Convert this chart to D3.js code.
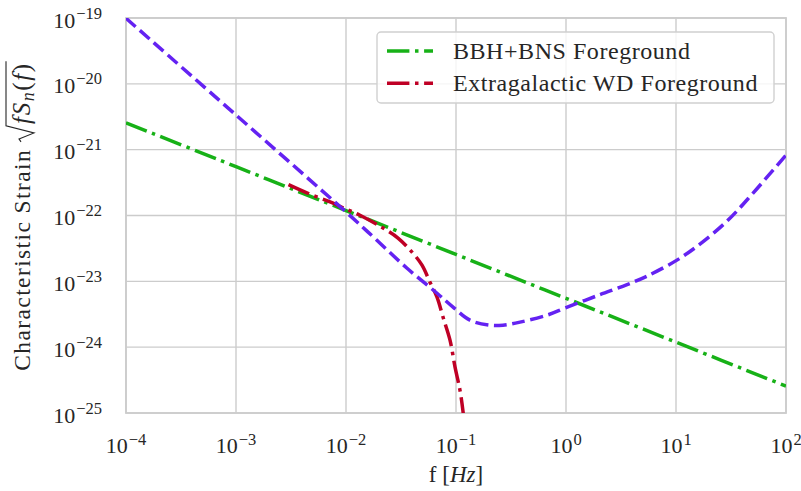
<!DOCTYPE html>
<html>
<head>
<meta charset="utf-8">
<script src="https://cdn.jsdelivr.net/npm/d3@7"></script>
<style>
  body { margin: 0; background: #fff; }
  svg { display: block; font-family: "Liberation Serif", "Times New Roman", serif; }
</style>
</head>
<body>
<svg id="chart" width="801" height="491"></svg>
<script>
// ---- tick positions and their exponent labels ----
const xTickValues = [1e-4, 1e-3, 1e-2, 1e-1, 1, 10, 100];
const xTickExponents = ["\u22124", "\u22123", "\u22122", "\u22121", "0", "1", "2"];
const yTickValues = [1e-25, 1e-24, 1e-23, 1e-22, 1e-21, 1e-20, 1e-19];
const yTickExponents = ["\u221225", "\u221224", "\u221223", "\u221222", "\u221221", "\u221220", "\u221219"];

// ---- LISA sensitivity curve (dashed) ----
const lisaFreq = [1e-4, 1e-3, 1e-2, 0.0191, 0.0359, 0.0672, 0.094, 0.134, 0.204, 0.267,
                  0.382, 0.671, 1, 2.04, 3.59, 5.45, 10.2, 16.5, 29.1, 50.2, 100];
const lisaStrain = [9.9e-20, 3.36e-21, 1.13e-22, 4.2e-23, 1.58e-23, 6.6e-24, 4.06e-24, 2.57e-24, 2.16e-24, 2.16e-24,
                    2.4e-24, 3.06e-24, 3.98e-24, 6.28e-24, 8.91e-24, 1.2e-23, 2.1e-23, 3.68e-23, 8.22e-23, 2.19e-22, 8.28e-22];

// ---- BBH+BNS foreground ----
const bbhFreq = [1e-4, 1e-3, 1e-2, 1e-1, 1, 10, 100];
const bbhStrain = [2.56e-21, 5.52e-22, 1.19e-22, 2.56e-23, 5.52e-24, 1.19e-24, 2.56e-25];

// ---- extragalactic white-dwarf foreground ----
const wdFreq = [3.0e-3, 4.71e-3, 7.16e-3, 1e-2, 0.0134, 0.0217, 0.0297, 0.0398, 0.0491, 0.058,
                0.0672, 0.0762, 0.0882, 0.098, 0.1087, 0.116, 0.121];
const wdStrain = [2.95e-22, 2.11e-22, 1.61e-22, 1.25e-22, 1.01e-22, 6.45e-23, 4.54e-23, 2.78e-23, 1.76e-23, 9.7e-24,
                  5.75e-24, 2.86e-24, 1.28e-24, 4.96e-25, 2.22e-25, 1.03e-25, 5e-26];

const legendLabels = ["BBH+BNS Foreground", "Extragalactic WD Foreground"];
const colors = { lisa: "#6422f2", bbh: "#17b117", wd: "#bf0025" };

const margin = { left: 126, top: 18, right: 15, bottom: 78 };
const W = 801, H = 491;
const pw = W - margin.left - margin.right;   // 660
const ph = H - margin.top - margin.bottom;   // 395

const svg = d3.select("#chart");
const g = svg.append("g").attr("transform", `translate(${margin.left},${margin.top})`);

const x = d3.scaleLog().domain([1e-4, 1e2]).range([0, pw]);
const y = d3.scaleLog().domain([1e-25, 1e-19]).range([ph, 0]);

const gridColor = "#cccccc";
const textColor = "#262626";

// grid
g.append("g").selectAll("line").data(xTickValues).join("line")
  .attr("x1", d => x(d)).attr("x2", d => x(d)).attr("y1", 0).attr("y2", ph)
  .attr("stroke", gridColor).attr("stroke-width", 1.4);
g.append("g").selectAll("line").data(yTickValues).join("line")
  .attr("y1", d => y(d)).attr("y2", d => y(d)).attr("x1", 0).attr("x2", pw)
  .attr("stroke", gridColor).attr("stroke-width", 1.4);

// frame
g.append("rect").attr("x", 0).attr("y", 0).attr("width", pw).attr("height", ph)
  .attr("fill", "none").attr("stroke", gridColor).attr("stroke-width", 1.8);

// tick labels (10 with superscript exponent)
const xLab = g.append("g");
xTickValues.forEach((v, i) => {
  const t = xLab.append("text").attr("y", ph + 40).attr("fill", textColor)
    .attr("text-anchor", "middle").attr("x", x(v));
  t.append("tspan").attr("font-size", 22).text("10");
  t.append("tspan").attr("font-size", 16.5).attr("dy", -8).attr("dx", 1).text(xTickExponents[i]);
});
const yLab = g.append("g");
yTickValues.forEach((v, i) => {
  const t = yLab.append("text").attr("y", y(v) + 9.5).attr("fill", textColor)
    .attr("text-anchor", "end").attr("x", -24);
  t.append("tspan").attr("font-size", 22).text("10");
  t.append("tspan").attr("font-size", 16.5).attr("dy", -9).attr("dx", 1).text(yTickExponents[i]);
});

// x axis title
const xt = svg.append("text").attr("x", margin.left + pw / 2).attr("y", 482)
  .attr("text-anchor", "middle").attr("fill", textColor).attr("font-size", 23);
xt.append("tspan").text("f [");
xt.append("tspan").attr("font-style", "italic").text("Hz");
xt.append("tspan").text("]");

// y axis title with radical
const yg = svg.append("g").attr("transform", `translate(30,${margin.top + ph / 2}) rotate(-90)`);
const yt1 = yg.append("text").attr("font-size", 23.5).attr("letter-spacing", 1.4)
  .attr("fill", textColor).text("Characteristic Strain");
const ym = yg.append("text").attr("font-size", 25).attr("letter-spacing", 1.6).attr("fill", textColor);
ym.append("tspan").attr("font-style", "italic").text("fS");
ym.append("tspan").attr("font-style", "italic").attr("font-size", 18).attr("dy", 4).text("n");
ym.append("tspan").attr("dy", -4).text("(");
ym.append("tspan").attr("font-style", "italic").text("f");
ym.append("tspan").text(")");
const w1 = yt1.node().getComputedTextLength();
const w2 = ym.node().getComputedTextLength();
const gap = 7, radW = 18;
const total = w1 + gap + radW + w2 + 2;
const x0 = -total / 2;
yt1.attr("x", x0);
const rx = x0 + w1 + gap;
ym.attr("x", rx + radW);
yg.append("path")
  .attr("d", `M${rx},${-9} L${rx + 3},${-11} L${rx + 9},${4} L${rx + 16},${-24} L${rx + radW + w2 + 1},${-24}`)
  .attr("fill", "none").attr("stroke", textColor).attr("stroke-width", 1.1);

// curves
svg.append("defs").append("clipPath").attr("id", "plotclip")
  .append("rect").attr("x", 0).attr("y", 0).attr("width", pw).attr("height", ph);
const curves = g.append("g").attr("clip-path", "url(#plotclip)");
const line = d3.line().x(d => x(d[0])).y(d => y(d[1])).curve(d3.curveCatmullRom.alpha(0.5));
const lw = 3.5;
const dashed = `${3.7 * lw},${1.6 * lw}`;
const dashdot = `${6.4 * lw},${1.6 * lw},${1.0 * lw},${1.6 * lw}`;

curves.append("path").datum(d3.zip(bbhFreq, bbhStrain)).attr("d", line)
  .attr("fill", "none").attr("stroke", colors.bbh).attr("stroke-width", lw).attr("stroke-dasharray", dashdot);
curves.append("path").datum(d3.zip(wdFreq, wdStrain)).attr("d", line)
  .attr("fill", "none").attr("stroke", colors.wd).attr("stroke-width", lw).attr("stroke-dasharray", dashdot);
curves.append("path").datum(d3.zip(lisaFreq, lisaStrain)).attr("d", line)
  .attr("fill", "none").attr("stroke", colors.lisa).attr("stroke-width", lw).attr("stroke-dasharray", dashed);

// legend
const lg = svg.append("g");
lg.append("rect").attr("x", 377).attr("y", 32).attr("width", 397).attr("height", 71).attr("rx", 4)
  .attr("fill", "#fff").attr("fill-opacity", 0.8).attr("stroke", "#d0d0d0").attr("stroke-width", 1.4);
[colors.bbh, colors.wd].forEach((c, i) => {
  const cy = 51 + i * 32.3;
  lg.append("line").attr("x1", 387).attr("x2", 433).attr("y1", cy).attr("y2", cy)
    .attr("stroke", c).attr("stroke-width", lw).attr("stroke-dasharray", dashdot);
  lg.append("text").attr("x", 453).attr("y", cy + 7.5).attr("font-size", 24)
    .attr("letter-spacing", 0.55).attr("fill", textColor).text(legendLabels[i]);
});
</script>
</body>
</html>
